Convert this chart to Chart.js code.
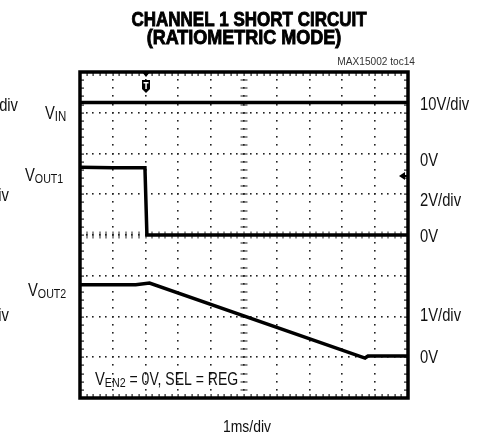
<!DOCTYPE html>
<html>
<head>
<meta charset="utf-8">
<script src="https://cdn.jsdelivr.net/npm/chart.js@4/dist/chart.umd.min.js"></script>
<style>
  body { margin: 0; background: #fff; }
  .wrap { position: relative; width: 486px; height: 435px; }
</style>
</head>
<body>
<div class="wrap"><canvas id="scope"></canvas></div>
<script>
// time in ms, trigger at 0, 1ms/div
const timeVin = [-2, 0, 8];
const vin = [13.5, 13.5, 13.5];

const timeOut1 = [-2, -1, -0.02, 0.04, 8];
const vout1 = [3.32, 3.3, 3.3, 0, 0];

const timeOut2 = [-2, -0.3, 0.12, 6.69, 6.78, 8];
const vout2 = [1.75, 1.75, 1.79, -0.05, 0, 0];

const FONT = '"Liberation Sans", Arial, sans-serif';

const toPoints = (xs, ys) => xs.map((t, i) => ({ x: t, y: ys[i] }));

// condensed text: the scope font is a narrow Helvetica, so squeeze Liberation Sans
let text = (ctx, str, x, y, font, align = 'left', squeeze = 0.82) => {
    ctx.save();
    ctx.font = font;
    ctx.textBaseline = 'alphabetic';
    ctx.textAlign = 'left';
    let w = ctx.measureText(str).width * squeeze;
    let x0 = align === 'right' ? x - w : align === 'center' ? x - w / 2 : x;
    ctx.translate(x0, y);
    ctx.scale(squeeze, 1);
    ctx.fillText(str, 0, 0);
    if (ctx.lineWidth > 0 && ctx.strokeStyle && font.startsWith('bold')) ctx.strokeText(str, 0, 0);
    ctx.restore();
    return w;
};

// "V" + smaller subscript part
let label = (ctx, main, sub, x, y, size, subSize) => {
    let w = text(ctx, main, x, y, size + 'px ' + FONT);
    return w + text(ctx, sub, x + w, y + 1.5, subSize + 'px ' + FONT);
};

const graticule = {
    id: 'graticule',
    beforeDatasetsDraw(chart) {
        const { ctx, chartArea: a, scales: { x, y } } = chart;
        ctx.save();
        ctx.fillStyle = '#222';
        // vertical dotted lines
        for (let i = 1; i < 10; i++) {
            let px = Math.round(x.getPixelForValue(-2 + i));
            for (let j = 1; j < 40; j++) {
                let py = Math.round(y.getPixelForValue(j / 5));
                ctx.fillRect(px - 1, py - 1, 1.6, 1.6);
                if (i === 5) ctx.fillRect(px - 3.5, py - 0.5, 7, 1);
            }
        }
        // horizontal dotted lines
        for (let j = 1; j < 8; j++) {
            let py = Math.round(y.getPixelForValue(j));
            for (let i = 1; i < 50; i++) {
                let px = Math.round(x.getPixelForValue(-2 + i / 5));
                ctx.fillRect(px - 1, py - 1, 1.6, 1.6);
                if (j === 4) ctx.fillRect(px - 0.5, py - 3.5, 1, 7);
            }
        }
        // minor ticks on the frame
        for (let i = 1; i < 50; i++) {
            let px = Math.round(x.getPixelForValue(-2 + i / 5));
            ctx.fillRect(px - 0.5, a.top, 1.2, 4);
            ctx.fillRect(px - 0.5, a.bottom - 4, 1.2, 4);
        }
        for (let j = 1; j < 40; j++) {
            let py = Math.round(y.getPixelForValue(j / 5));
            ctx.fillRect(a.left, py - 0.5, 4, 1.2);
            ctx.fillRect(a.right - 4, py - 0.5, 4, 1.2);
        }
        ctx.lineWidth = 3.5;
        ctx.strokeStyle = '#000';
        ctx.strokeRect(a.left, a.top, a.right - a.left, a.bottom - a.top);
        ctx.restore();
    }
};

const annotations = {
    id: 'annotations',
    afterDraw(chart) {
        const { ctx, chartArea: a, scales: { x } } = chart;
        ctx.save();
        ctx.fillStyle = '#000';
        ctx.strokeStyle = '#000';

        // title
        ctx.lineWidth = 0.9;
        text(ctx, 'CHANNEL 1 SHORT CIRCUIT', 249, 26, 'bold 20px ' + FONT, 'center', 0.85);
        text(ctx, '(RATIOMETRIC MODE)', 244, 44, 'bold 20px ' + FONT, 'center', 0.9);
        ctx.lineWidth = 0;

        ctx.fillStyle = '#333';
        text(ctx, 'MAX15002 toc14', 415, 65, '11px ' + FONT, 'right', 0.92);

        // right side labels
        ctx.fillStyle = '#111';
        const f = '18px ' + FONT;
        text(ctx, '10V/div', 420, 110, f);
        text(ctx, '0V', 420, 166, f);
        text(ctx, '2V/div', 420, 206, f);
        text(ctx, '0V', 420, 242, f);
        text(ctx, '1V/div', 420, 321, f);
        text(ctx, '0V', 420, 363, f);

        // cut-off labels at the far left
        text(ctx, '10V/div', 18, 111, f, 'right');
        text(ctx, '2V/div', 9, 201, f, 'right');
        text(ctx, '1V/div', 9, 321, f, 'right');

        // channel names
        label(ctx, 'V', 'IN', 45, 119, 18, 14);
        label(ctx, 'V', 'OUT1', 25, 181, 18, 13);
        label(ctx, 'V', 'OUT2', 28, 296, 18, 13);
        let w = label(ctx, 'V', 'EN2', 95, 385, 18, 13);
        text(ctx, ' = 0V, SEL = REG', 95 + w, 385, '18px ' + FONT, 'left', 0.78);

        text(ctx, '1ms/div', 247, 432, '17px ' + FONT, 'center');

        // trigger marker
        ctx.fillStyle = '#000';
        let tx = Math.round(x.getPixelForValue(0));
        ctx.beginPath();
        ctx.moveTo(tx - 4, a.top);
        ctx.lineTo(tx + 4, a.top);
        ctx.lineTo(tx, a.top + 5);
        ctx.fill();
        ctx.beginPath();
        ctx.moveTo(tx - 4, 80);
        ctx.lineTo(tx + 4, 80);
        ctx.lineTo(tx + 4, 89);
        ctx.lineTo(tx, 93);
        ctx.lineTo(tx - 4, 89);
        ctx.closePath();
        ctx.fill();
        ctx.fillStyle = '#fff';
        ctx.fillRect(tx - 2.5, 82, 5, 1.5);
        ctx.fillRect(tx - 0.7, 82, 1.5, 7);

        // channel offset arrow at right
        ctx.fillStyle = '#000';
        ctx.beginPath();
        ctx.moveTo(a.right - 9, 176);
        ctx.lineTo(a.right - 3, 172);
        ctx.lineTo(a.right - 3, 180);
        ctx.closePath();
        ctx.fill();
        ctx.fillRect(a.right - 4, 175, 3, 2);
        ctx.restore();
    }
};

const trace = (name, data, axis) => ({
    label: name,
    data: data,
    yAxisID: axis,
    borderColor: '#000',
    borderWidth: 3.5,
    pointRadius: 0,
    showLine: true,
    tension: 0,
    fill: false
});

new Chart(document.getElementById('scope'), {
    type: 'scatter',
    data: {
        datasets: [
            trace('VIN', toPoints(timeVin, vin), 'yVin'),
            trace('VOUT1', toPoints(timeOut1, vout1), 'yOut1'),
            trace('VOUT2', toPoints(timeOut2, vout2), 'yOut2')
        ]
    },
    options: {
        responsive: true,
        maintainAspectRatio: false,
        animation: false,
        layout: { padding: { left: 80, top: 72, right: 78, bottom: 37 } },
        scales: {
            x: { type: 'linear', min: -2, max: 8, display: false },
            // graticule in divisions
            y: { type: 'linear', min: 0, max: 8, display: false },
            // 10V/div, 0V at 5.9 div
            yVin: { type: 'linear', min: -59, max: 21, display: false },
            // 2V/div, 0V at 4 div
            yOut1: { type: 'linear', min: -8, max: 8, display: false },
            // 1V/div, 0V at 1.03 div
            yOut2: { type: 'linear', min: -1.03, max: 6.97, display: false }
        },
        plugins: {
            legend: { display: false },
            tooltip: { enabled: false }
        }
    },
    plugins: [graticule, annotations]
});
</script>
</body>
</html>
